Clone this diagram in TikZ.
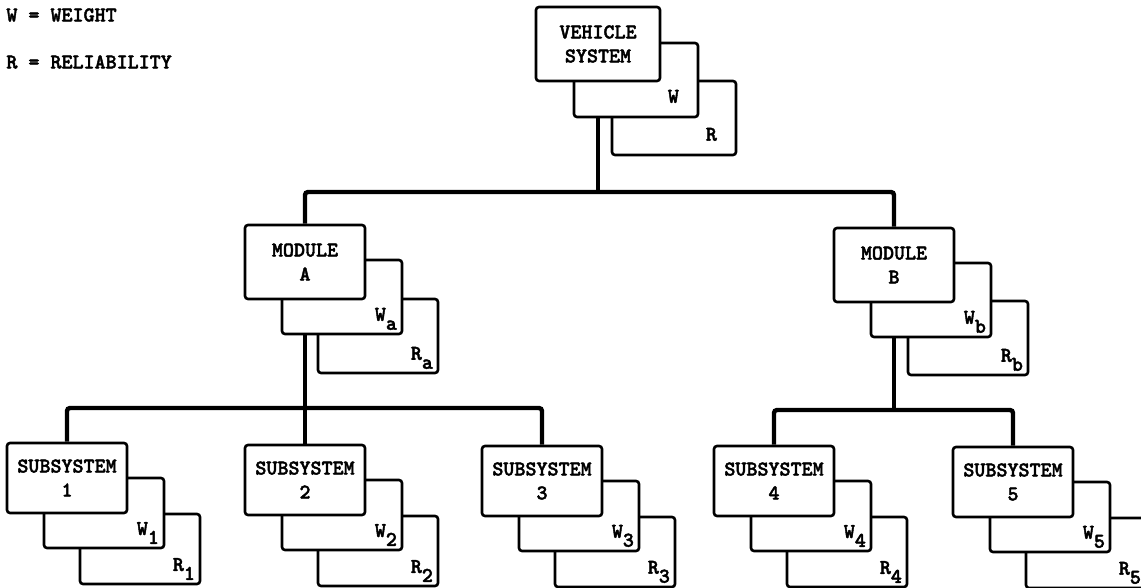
\documentclass[tikz,border=0pt]{standalone}
\usepackage{fontspec}
\newfontfamily\tyfont{lmmonolt10-bold.otf}[FakeBold=2]
\usepackage{tikz}
\usetikzlibrary{positioning,calc}
\tikzset{
  card/.style={rectangle, rounded corners=1.5pt, draw=black, line width=1.3pt,
    fill=white, minimum width=60pt, minimum height=35pt, align=center, inner sep=0pt},
  topcard/.style={card, minimum width=62pt, minimum height=37pt},
  modcard/.style={card, minimum height=37pt},
  tag/.style={anchor=south east, xshift=-2pt, yshift=1.5pt, inner sep=1pt},
  toptag/.style={tag, xshift=-7pt, yshift=5pt},
  legend/.style={anchor=west, inner sep=0pt},
  bus/.style={line width=2.2pt, rounded corners=1.5pt}
}
\newcommand\lowsub[1]{\raisebox{-4.5pt}{#1}}

\begin{document}
\begin{tikzpicture}[
  x=0.5pt, y=-0.5pt,
  every node/.style={font=\tyfont\fontsize{10.5}{12}\selectfont}
]
  \useasboundingbox (0,0) rectangle (1141,588);
  \node[legend] (keyW) at (6,15) {W = WEIGHT};
  \node[legend] (keyR) at (6,62) {R = RELIABILITY};

  \node[topcard, label={[toptag]south east:R}] (vehR) at (674,118) {};
  \node[topcard, label={[toptag]south east:W}] (vehW) at (636,80) {};
  \node[topcard] (veh) at (598,44) {VEHICLE\\SYSTEM};

  \node[modcard, label={[tag]south east:R\lowsub{a}}] (modAR) at (378,336) {};
  \node[modcard, label={[tag]south east:W\lowsub{a}}] (modAW) at (342,297) {};
  \node[modcard] (modA) at (305,262) {MODULE\\A};

  \node[modcard, label={[tag]south east:R\lowsub{b}}] (modBR) at (968,338) {};
  \node[modcard, label={[tag]south east:W\lowsub{b}}] (modBW) at (931,300) {};
  \node[modcard] (modB) at (894,265) {MODULE\\B};

  \foreach \i/\x/\y in {1/67/478,2/305/480,3/542/481,4/774/481,5/1013/482}{
    \node[card, label={[tag]south east:R\lowsub{\i}}] (sub\i R) at (\x+73,\y+71) {};
    \node[card, label={[tag]south east:W\lowsub{\i}}] (sub\i W) at (\x+37,\y+35) {};
    \node[card] (sub\i) at (\x,\y) {SUBSYSTEM\\\i};
  }

  \coordinate (j0) at (598,192);
  \coordinate (j1) at (305,408);
  \coordinate (j2) at (894,410);
  \draw[bus] (veh |- vehW.south) -- (j0);
  \draw[bus] (modA.north) |- (j0) -| (modB.north);
  \draw[bus] (modA |- modAW.south) -- (j1);
  \draw[bus] (sub1.north) |- (j1) -| (sub3.north);
  \draw[bus] (j1) -- (sub2.north);
  \draw[bus] (modB |- modBW.south) -- (j2);
  \draw[bus] (sub4.north) |- (j2) -| (sub5.north);
\end{tikzpicture}
\end{document}
